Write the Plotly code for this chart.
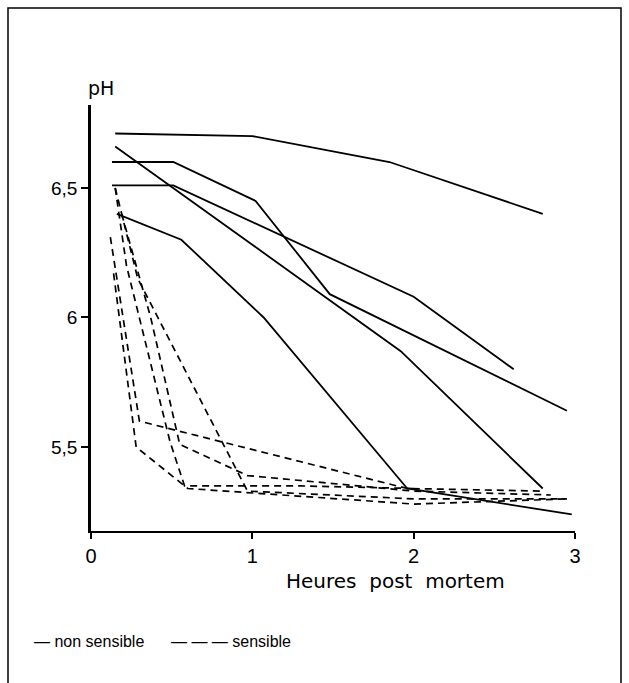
import plotly.graph_objects as go

# ---- data (hours post mortem, pH) ----
# non sensible (solid)
ns1_x = [0.15, 1.0, 1.85, 2.80]
ns1_y = [6.71, 6.70, 6.60, 6.40]
ns2_x = [0.15, 1.92, 2.80]
ns2_y = [6.66, 5.87, 5.34]
ns3_x = [0.13, 0.51, 1.02, 1.48, 2.95]
ns3_y = [6.60, 6.60, 6.45, 6.09, 5.64]
ns4_x = [0.13, 0.51, 2.00, 2.62]
ns4_y = [6.51, 6.51, 6.08, 5.80]
ns5_x = [0.16, 0.56, 1.07, 1.96, 2.98]
ns5_y = [6.40, 6.30, 6.00, 5.34, 5.24]

# sensible (dashed)
s1_x = [0.15, 0.29, 0.97, 2.00, 2.95]
s1_y = [6.50, 6.15, 5.33, 5.30, 5.30]
s2_x = [0.12, 0.30, 1.96, 2.80]
s2_y = [6.31, 5.60, 5.34, 5.33]
s3_x = [0.14, 0.28, 0.60, 2.00, 2.95]
s3_y = [6.17, 5.50, 5.34, 5.28, 5.30]
s4_x = [0.19, 0.37, 0.55, 0.97, 2.00, 2.85]
s4_y = [6.40, 6.00, 5.51, 5.39, 5.33, 5.315]
s5_x = [0.15, 0.22, 0.49, 0.58, 1.30, 2.00]
s5_y = [6.50, 6.20, 5.52, 5.35, 5.35, 5.34]

x_tick_vals = [0, 1, 2, 3]
x_tick_text = ["0", "1", "2", "3"]
y_tick_vals = [5.5, 6.0, 6.5]
y_tick_text = ["5,5", "6", "6,5"]

solid = [(ns1_x, ns1_y), (ns2_x, ns2_y), (ns3_x, ns3_y), (ns4_x, ns4_y), (ns5_x, ns5_y)]
dashed = [(s1_x, s1_y), (s2_x, s2_y), (s3_x, s3_y), (s4_x, s4_y), (s5_x, s5_y)]

fig = go.Figure()
for xs, ys in solid:
    fig.add_trace(go.Scatter(x=xs, y=ys, mode="lines",
                             line=dict(color="black", width=1.8),
                             showlegend=False, hoverinfo="skip"))
for xs, ys in dashed:
    fig.add_trace(go.Scatter(x=xs, y=ys, mode="lines",
                             line=dict(color="black", width=1.7, dash="7px,5px"),
                             showlegend=False, hoverinfo="skip"))

L, R, T, B = 91, 54, 105, 152
W, H = 629, 683
pw, ph = W - L - R, H - T - B


def px_x(p):
    return (p - L) / pw


def px_y(p):
    return (H - B - p) / ph


fig.update_layout(
    width=W, height=H,
    margin=dict(l=L, r=R, t=T, b=B, pad=0),
    paper_bgcolor="white", plot_bgcolor="white",
    showlegend=False,
    xaxis=dict(range=[0, 3], showgrid=False, zeroline=False,
               showline=True, linecolor="black", linewidth=2,
               tickvals=x_tick_vals, ticktext=x_tick_text,
               ticks="outside", ticklen=6, tickwidth=1.5, tickcolor="black",
               tickfont=dict(family="Liberation Sans", size=20, color="black")),
    yaxis=dict(range=[5.176, 6.82], showgrid=False, zeroline=False,
               showline=True, linecolor="black", linewidth=2.5,
               tickvals=y_tick_vals, ticktext=y_tick_text,
               ticks="outside", ticklen=7, tickwidth=1.5, tickcolor="black",
               tickfont=dict(family="Liberation Sans", size=19, color="black")),
)

fig.add_annotation(text="pH", xref="paper", yref="paper",
                   x=px_x(101), y=px_y(88), showarrow=False,
                   xanchor="center", yanchor="middle",
                   font=dict(family="DejaVu Sans", size=19, color="black"))
fig.add_annotation(text="Heures\u00a0\u00a0post\u00a0\u00a0mortem", xref="paper", yref="paper",
                   x=px_x(395), y=px_y(581), showarrow=False,
                   xanchor="center", yanchor="middle",
                   font=dict(family="DejaVu Sans", size=20, color="black"))
fig.add_annotation(text="\u2014 non sensible" + "\u00a0" * 6 + "\u2014 \u2014 \u2014 sensible",
                   xref="paper", yref="paper",
                   x=px_x(32), y=px_y(641), showarrow=False,
                   xanchor="left", yanchor="middle",
                   font=dict(family="Liberation Sans", size=16, color="black"))

# outer frame
fig.add_shape(type="rect", xref="paper", yref="paper",
              x0=px_x(8), x1=px_x(621), y0=px_y(700), y1=px_y(8),
              line=dict(color="black", width=1.5), fillcolor="rgba(0,0,0,0)")

fig.write_html("out.html", config={"displayModeBar": False},
               post_script="document.body.style.margin='0';document.body.style.overflow='hidden';")
